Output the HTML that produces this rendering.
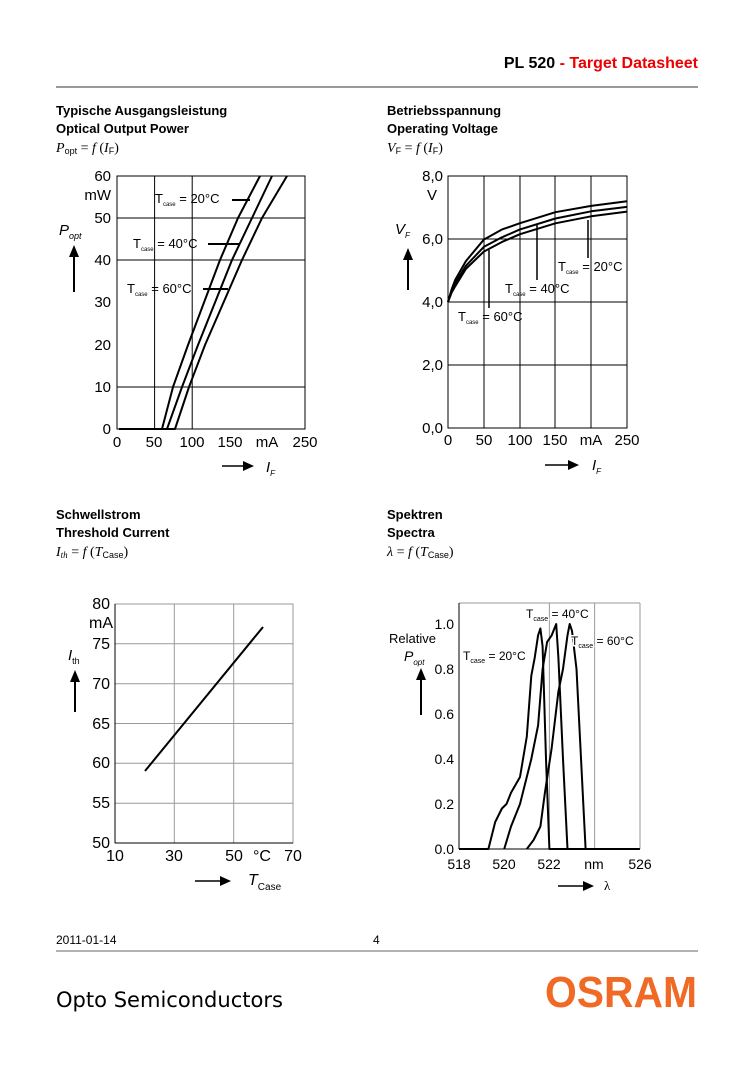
<!DOCTYPE html>
<html><head><meta charset="utf-8"><style>
body{margin:0;background:#fff}
svg{display:block}
text{font-family:"Liberation Sans",sans-serif;fill:#000}
text.s, .s text, .s tspan{font-family:"Liberation Serif",serif}
.s tspan.ls{font-family:"Liberation Sans",sans-serif}
.g{stroke:#000;stroke-width:1;fill:none}
.gl{stroke:#999;stroke-width:1;fill:none}
.c{stroke:#000;stroke-width:2;fill:none;stroke-linejoin:round}
</style></head><body>
<svg id="sv" width="754" height="1067" viewBox="0 0 754 1067" xmlns="http://www.w3.org/2000/svg">
<text x="698" y="68" text-anchor="end" font-size="16" font-weight="bold">PL 520 <tspan fill="#e00">- Target Datasheet</tspan></text>
<line x1="56" y1="87" x2="698" y2="87" stroke="#999" stroke-width="2"/>
<g font-size="13" font-weight="bold">
<text x="56" y="115">Typische Ausgangsleistung</text><text x="56" y="133">Optical Output Power</text>
<text x="387" y="115">Betriebsspannung</text><text x="387" y="133">Operating Voltage</text>
<text x="56" y="519">Schwellstrom</text><text x="56" y="537">Threshold Current</text>
<text x="387" y="519">Spektren</text><text x="387" y="537">Spectra</text>
</g>
<g class="s" font-size="14">
<text class="s" x="56" y="152"><tspan font-style="italic">P</tspan><tspan class="ls" font-size="9" dy="2">opt</tspan><tspan dy="-2"> = </tspan><tspan font-style="italic">f</tspan> (<tspan font-style="italic">I</tspan><tspan class="ls" font-size="9" dy="2">F</tspan><tspan dy="-2">)</tspan></text>
<text class="s" x="387" y="152"><tspan font-style="italic">V</tspan><tspan class="ls" font-size="9" dy="2">F</tspan><tspan dy="-2"> = </tspan><tspan font-style="italic">f</tspan> (<tspan font-style="italic">I</tspan><tspan class="ls" font-size="9" dy="2">F</tspan><tspan dy="-2">)</tspan></text>
<text class="s" x="56" y="556"><tspan font-style="italic">I</tspan><tspan font-size="9" font-style="italic" dy="2">th</tspan><tspan dy="-2"> = </tspan><tspan font-style="italic">f</tspan> (<tspan font-style="italic">T</tspan><tspan class="ls" font-size="9" dy="2">Case</tspan><tspan dy="-2">)</tspan></text>
<text class="s" x="387" y="556"><tspan font-style="italic">λ</tspan> = <tspan font-style="italic">f</tspan> (<tspan font-style="italic">T</tspan><tspan class="ls" font-size="9" dy="2">Case</tspan><tspan dy="-2">)</tspan></text>
</g>

<!-- Chart 1 -->
<g>
<rect x="117" y="176" width="188" height="253" class="g"/>
<line x1="154.6" y1="176" x2="154.6" y2="429" class="g"/>
<line x1="192.2" y1="176" x2="192.2" y2="429" class="g"/>
<line x1="117" y1="387" x2="305" y2="387" class="g"/>
<line x1="117" y1="260" x2="305" y2="260" class="g"/>
<line x1="117" y1="218" x2="305" y2="218" class="g"/>
<g font-size="15" text-anchor="end">
<text x="111" y="181">60</text><text x="111" y="223">50</text><text x="111" y="265">40</text><text x="111" y="307">30</text><text x="111" y="350">20</text><text x="111" y="392">10</text><text x="111" y="434">0</text>
<text x="111" y="200">mW</text>
</g>
<g font-size="15" text-anchor="middle">
<text x="117" y="447">0</text><text x="154" y="447">50</text><text x="192" y="447">100</text><text x="230" y="447">150</text><text x="267" y="447">mA</text><text x="305" y="447">250</text>
</g>
<path class="c" d="M119 429 L162 429 L173 387 L188 345 L220 260 L238 218 L260 176"/>
<path class="c" d="M130 429 L167 429 L182 387 L198 345 L232 260 L252 218 L272 176"/>
<path class="c" d="M140 429 L175 429 L189 387 L205 345 L242 260 L262 218 L287 176"/>
<line x1="232" y1="200" x2="250" y2="200" class="c" stroke-width="1.5"/>
<line x1="208" y1="244" x2="240" y2="244" class="c" stroke-width="1.5"/>
<line x1="203" y1="289" x2="228" y2="289" class="c" stroke-width="1.5"/>
<g font-size="13">
<text x="155" y="203">T<tspan font-size="6" dy="3">case</tspan><tspan dy="-3"> = 20°C</tspan></text>
<text x="133" y="248">T<tspan font-size="6" dy="3">case</tspan><tspan dy="-3"> = 40°C</tspan></text>
<text x="127" y="293">T<tspan font-size="6" dy="3">case</tspan><tspan dy="-3"> = 60°C</tspan></text>
</g>
<text x="59" y="235" font-size="15" font-style="italic">P<tspan font-size="9" dy="4">opt</tspan></text>
<line x1="74" y1="292" x2="74" y2="255" stroke="#000" stroke-width="2"/><path d="M69 257 L74 245 L79 257Z"/>
<line x1="222" y1="466" x2="245" y2="466" stroke="#000" stroke-width="1.5"/><path d="M243 461 L254 466 L243 471Z"/>
<text x="266" y="472" font-size="15" font-style="italic">I<tspan font-size="8" dy="4">F</tspan></text>
</g>

<!-- Chart 2 -->
<g>
<rect x="448" y="176" width="179" height="252" class="g"/>
<line x1="484" y1="176" x2="484" y2="428" class="g"/>
<line x1="520" y1="176" x2="520" y2="428" class="g"/>
<line x1="555" y1="176" x2="555" y2="428" class="g"/>
<line x1="591" y1="176" x2="591" y2="428" class="g"/>
<line x1="448" y1="239" x2="627" y2="239" class="g"/>
<line x1="448" y1="302" x2="627" y2="302" class="g"/>
<line x1="448" y1="365" x2="627" y2="365" class="g"/>
<g font-size="15" text-anchor="end">
<text x="443" y="181">8,0</text><text x="443" y="244">6,0</text><text x="443" y="307">4,0</text><text x="443" y="370">2,0</text><text x="443" y="433">0,0</text>
<text x="437" y="200">V</text>
</g>
<g font-size="15" text-anchor="middle">
<text x="448" y="445">0</text><text x="484" y="445">50</text><text x="520" y="445">100</text><text x="555" y="445">150</text><text x="591" y="445">mA</text><text x="627" y="445">250</text>
</g>
<path id="v20" class="c"/><path id="v40" class="c"/><path id="v60" class="c"/>
<line x1="588" y1="220" x2="588" y2="258" stroke="#000" stroke-width="1.5"/>
<line x1="537" y1="225" x2="537" y2="280" stroke="#000" stroke-width="1.5"/>
<line x1="489" y1="250" x2="489" y2="308" stroke="#000" stroke-width="1.5"/>
<g font-size="13">
<text x="558" y="271">T<tspan font-size="6" dy="3">case</tspan><tspan dy="-3"> = 20°C</tspan></text>
<text x="505" y="293">T<tspan font-size="6" dy="3">case</tspan><tspan dy="-3"> = 40°C</tspan></text>
<text x="458" y="321">T<tspan font-size="6" dy="3">case</tspan><tspan dy="-3"> = 60°C</tspan></text>
</g>
<text x="395" y="234" font-size="15" font-style="italic">V<tspan font-size="8" dy="4">F</tspan></text>
<line x1="408" y1="290" x2="408" y2="258" stroke="#000" stroke-width="2"/><path d="M403 260 L408 248 L413 260Z"/>
<line x1="545" y1="465" x2="570" y2="465" stroke="#000" stroke-width="1.5"/><path d="M568 460 L579 465 L568 470Z"/>
<text x="592" y="470" font-size="15" font-style="italic">I<tspan font-size="8" dy="4">F</tspan></text>
</g>

<!-- Chart 3 -->
<g>
<line x1="174.3" y1="604" x2="174.3" y2="843" class="gl"/>
<line x1="233.7" y1="604" x2="233.7" y2="843" class="gl"/>
<line x1="115" y1="643.8" x2="293" y2="643.8" class="gl"/>
<line x1="115" y1="683.7" x2="293" y2="683.7" class="gl"/>
<line x1="115" y1="723.5" x2="293" y2="723.5" class="gl"/>
<line x1="115" y1="763.3" x2="293" y2="763.3" class="gl"/>
<line x1="115" y1="803.2" x2="293" y2="803.2" class="gl"/>
<rect x="115" y="604" width="178" height="239" class="gl"/>
<line x1="115" y1="604" x2="115" y2="843" class="g"/><line x1="115" y1="843" x2="293" y2="843" class="g"/>
<g font-size="16" text-anchor="end">
<text x="110" y="609">80</text><text x="110" y="649">75</text><text x="110" y="689">70</text><text x="110" y="729">65</text><text x="110" y="768">60</text><text x="110" y="808">55</text><text x="110" y="848">50</text>
<text x="113" y="628">mA</text>
</g>
<g font-size="16" text-anchor="middle">
<text x="115" y="861">10</text><text x="174" y="861">30</text><text x="234" y="861">50</text><text x="262" y="861">°C</text><text x="293" y="861">70</text>
</g>
<line x1="145" y1="771" x2="263" y2="627" stroke="#000" stroke-width="2"/>
<text x="68" y="660" font-size="15" font-style="italic">I<tspan font-size="9" font-style="normal" dy="4">th</tspan></text>
<line x1="75" y1="712" x2="75" y2="680" stroke="#000" stroke-width="2"/><path d="M70 682 L75 670 L80 682Z"/>
<line x1="195" y1="881" x2="222" y2="881" stroke="#000" stroke-width="1.5"/><path d="M220 876 L231 881 L220 886Z"/>
<text x="248" y="885" font-size="16" font-style="italic">T<tspan font-size="10" font-style="normal" dy="5">Case</tspan></text>
</g>

<!-- Chart 4 -->
<g>
<line x1="549.4" y1="603" x2="549.4" y2="849" class="gl"/>
<line x1="594.6" y1="603" x2="594.6" y2="849" class="gl"/>
<line x1="459" y1="603" x2="640" y2="603" class="gl"/>
<line x1="640" y1="603" x2="640" y2="849" class="gl"/>
<line x1="459" y1="603" x2="459" y2="849" class="g"/>
<line x1="459" y1="849" x2="640" y2="849" class="g"/>
<g font-size="14" text-anchor="end">
<text x="454" y="629">1.0</text><text x="454" y="674">0.8</text><text x="454" y="719">0.6</text><text x="454" y="764">0.4</text><text x="454" y="809">0.2</text><text x="454" y="854">0.0</text>
</g>
<g font-size="14" text-anchor="middle">
<text x="459" y="869">518</text><text x="504" y="869">520</text><text x="549" y="869">522</text><text x="594" y="869">nm</text><text x="640" y="869">526</text>
</g>
<path id="s20" class="c"/><path id="s40" class="c"/><path id="s60" class="c"/>
<g font-size="12">
<text x="463" y="660">T<tspan font-size="7" dy="3">case</tspan><tspan dy="-3"> = 20°C</tspan></text>
<text x="526" y="618" style="paint-order:stroke" stroke="#fff" stroke-width="3">T<tspan font-size="7" dy="3">case</tspan><tspan dy="-3"> = 40°C</tspan></text>
<text x="571" y="645" style="paint-order:stroke" stroke="#fff" stroke-width="3">T<tspan font-size="7" dy="3">case</tspan><tspan dy="-3"> = 60°C</tspan></text>
</g>
<text x="389" y="643" font-size="13">Relative</text>
<text x="404" y="661" font-size="14" font-style="italic">P<tspan font-size="8" dy="4">opt</tspan></text>
<line x1="421" y1="715" x2="421" y2="678" stroke="#000" stroke-width="2"/><path d="M416 680 L421 668 L426 680Z"/>
<line x1="558" y1="886" x2="585" y2="886" stroke="#000" stroke-width="1.5"/><path d="M583 881 L594 886 L583 891Z"/>
<text x="604" y="890" font-size="13" class="s">λ</text>
</g>

<!-- Footer -->
<text x="56" y="944" font-size="12">2011-01-14</text>
<text x="373" y="944" font-size="12">4</text>
<line x1="56" y1="951" x2="698" y2="951" stroke="#999" stroke-width="1.5"/>
<text x="56" y="1007" font-size="21" style="font-family:'DejaVu Sans',sans-serif" textLength="227" lengthAdjust="spacingAndGlyphs">Opto Semiconductors</text>
<text x="697" y="1007" text-anchor="end" font-size="44" font-weight="bold" style="fill:#f06a26" textLength="152" lengthAdjust="spacingAndGlyphs">OSRAM</text>
</svg>
<script>
function P(id,pts,fx,fy){var d='';pts.forEach(function(p,i){d+=(i?'L':'M')+fx(p[0]).toFixed(1)+' '+fy(p[1]).toFixed(1)+' ';});document.getElementById(id).setAttribute('d',d);}
var vx=function(i){return 448+i*0.716},vy=function(v){return 428-v*31.5};
P('v20',[[0,4],[5,4.4],[10,4.7],[25,5.3],[50,5.98],[75,6.3],[100,6.5],[150,6.85],[200,7.05],[250,7.2]],vx,vy);
P('v40',[[0,4],[5,4.35],[10,4.6],[25,5.15],[50,5.75],[75,6.05],[100,6.3],[150,6.65],[200,6.88],[250,7.02]],vx,vy);
P('v60',[[0,4],[5,4.3],[10,4.5],[25,5.05],[50,5.6],[75,5.9],[100,6.15],[150,6.5],[200,6.72],[250,6.87]],vx,vy);
var sx=function(l){return 459+(l-518)*22.6},sy=function(v){return 849-v*225};
P('s20',[[518,0],[519.3,0],[519.6,0.12],[519.9,0.18],[520.1,0.2],[520.3,0.25],[520.7,0.32],[521,0.5],[521.2,0.77],[521.35,0.85],[521.5,0.95],[521.6,0.98],[521.7,0.9],[521.85,0.4],[522,0],[526,0]],sx,sy);
P('s40',[[520,0],[520.3,0.1],[520.5,0.15],[520.7,0.2],[521.2,0.4],[521.5,0.55],[521.7,0.8],[521.9,0.92],[522.1,0.95],[522.3,1.0],[522.4,0.85],[522.6,0.4],[522.8,0]],sx,sy);
P('s60',[[521,0],[521.3,0.04],[521.6,0.1],[521.8,0.25],[522.1,0.45],[522.4,0.7],[522.6,0.8],[522.8,0.95],[522.9,1.0],[523,0.97],[523.2,0.8],[523.5,0.2],[523.6,0]],sx,sy);
</script>
</body></html>
